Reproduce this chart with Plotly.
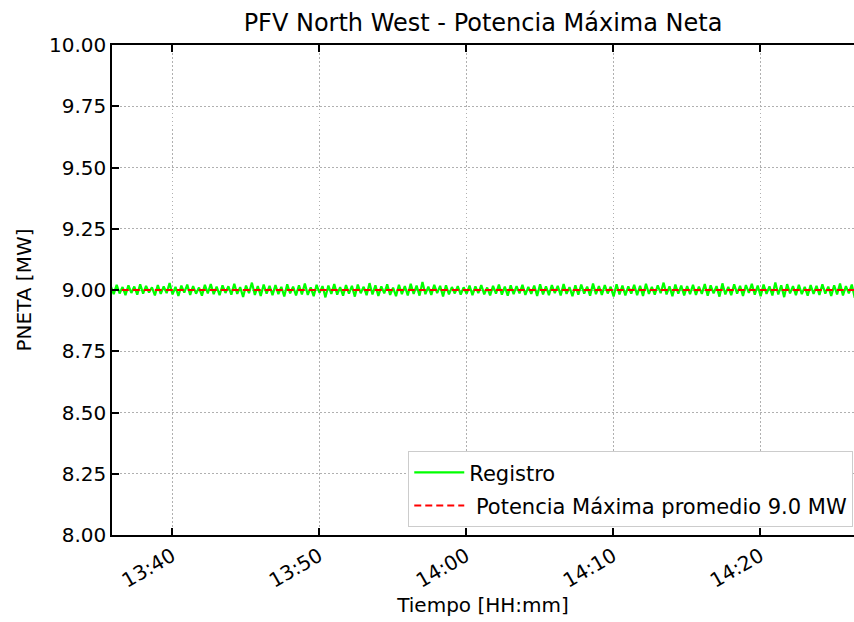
import pandas as pd
import plotly.graph_objects as go

# registro PNETA [MW], una muestra cada 12 s desde 13:35:50
registro = [
    9.016, 8.983, 9.021, 8.986, 9.012, 8.979, 9.019, 8.988, 9.014, 8.981, 9.023, 8.985, 9.017, 8.990, 9.011, 8.978, 9.020, 8.984, 9.015, 8.987,
    9.028, 8.982, 9.013, 8.976, 9.018, 8.989, 9.022, 8.980, 9.016, 8.985, 9.010, 8.977, 9.021, 8.986, 9.024, 8.983, 9.014, 8.979, 9.019, 8.988,
    9.015, 8.981, 9.025, 8.984, 9.012, 8.972, 9.018, 8.987, 9.030, 8.980, 9.016, 8.976, 9.022, 8.985, 9.017, 8.979, 9.020, 8.983, 9.013, 8.974,
    9.023, 8.986, 9.014, 8.978, 9.019, 8.982, 9.026, 8.980, 9.011, 8.975, 9.021, 8.988, 9.016, 8.970, 9.018, 8.984, 9.024, 8.981, 9.012, 8.977,
    9.020, 8.985, 9.017, 8.973, 9.022, 8.987, 9.013, 8.979, 9.028, 8.982, 9.019, 8.976, 9.015, 8.986, 9.023, 8.980, 9.010, 8.975, 9.021, 8.983,
    9.016, 8.978, 9.025, 8.984, 9.018, 8.977, 9.033, 8.983, 9.014, 8.980, 9.021, 8.987, 9.017, 8.974, 9.019, 8.982, 9.012, 8.986, 9.016, 8.981,
    9.011, 8.984, 9.018, 8.979, 9.015, 8.987, 9.020, 8.982, 9.010, 8.978, 9.017, 8.985, 9.022, 8.981, 9.014, 8.977, 9.019, 8.983, 9.016, 8.986,
    9.021, 8.980, 9.013, 8.984, 9.018, 8.976, 9.023, 8.982, 9.015, 8.979, 9.020, 8.987, 9.017, 8.978, 9.024, 8.984, 9.012, 8.975, 9.019, 8.981,
    9.022, 8.985, 9.014, 8.977, 9.026, 8.983, 9.016, 8.980, 9.020, 8.986, 9.013, 8.974, 9.023, 8.982, 9.018, 8.978, 9.015, 8.985, 9.021, 8.979,
    9.017, 8.976, 9.025, 8.984, 9.013, 8.981, 9.019, 8.987, 9.030, 8.982, 9.015, 8.975, 9.022, 8.985, 9.018, 8.978, 9.016, 8.983, 9.021, 8.980,
    9.014, 8.984, 9.024, 8.977, 9.019, 8.986, 9.016, 8.973, 9.027, 8.982, 9.013, 8.979, 9.023, 8.985, 9.017, 8.976, 9.020, 8.988, 9.025, 8.981,
    9.018, 8.975, 9.022, 8.984, 9.015, 8.978, 9.031, 8.982, 9.019, 8.971, 9.024, 8.986, 9.016, 8.979, 9.021, 8.983, 9.013, 8.977, 9.020, 8.984,
    9.017, 8.980, 9.023, 8.985, 9.014, 8.976, 9.019, 8.982, 9.026, 8.978, 9.016, 8.986, 9.022, 8.968, 9.032, 8.981, 9.018, 8.984, 9.015, 8.979,
]
tiempo = pd.date_range("2020-01-01 13:35:50", periods=len(registro), freq="12s")
p_max_promedio = 9.0

fig = go.Figure()

fig.add_trace(go.Scatter(
    x=tiempo, y=registro,
    mode="lines",
    name="Registro",
    legendgroup="a",
    line=dict(color="#00ff00", width=2.2),
))

fig.add_trace(go.Scatter(
    x=[tiempo[0], tiempo[-1]], y=[p_max_promedio, p_max_promedio],
    mode="lines",
    name=" Potencia Máxima promedio %.1f MW" % p_max_promedio,
    legendgroup="b",
    line=dict(color="#ff0000", width=2, dash="7px,4px"),
))

axis_style = dict(
    showline=True,
    linecolor="black",
    linewidth=1.5,
    ticks="inside",
    ticklen=7,
    tickwidth=1.5,
    tickcolor="black",
    showgrid=True,
    gridcolor="#b0b0b0",
    griddash="1.5px,2.5px",
    gridwidth=1,
    zeroline=False,
    tickfont=dict(size=20),
)

fig.update_layout(
    width=854,
    height=622,
    font=dict(family="DejaVu Sans", size=20, color="black"),
    title=dict(
        text="PFV North West - Potencia Máxima Neta",
        x=0.5, xref="paper", xanchor="center",
        y=0.964, yref="container", yanchor="middle",
        font=dict(size=24),
    ),
    plot_bgcolor="white",
    paper_bgcolor="white",
    margin=dict(l=112, r=0, t=45, b=87),
    showlegend=True,
    legend=dict(
        x=0.999, y=0.016, xanchor="right", yanchor="bottom",
        bgcolor="white",
        bordercolor="#cccccc",
        borderwidth=1,
        font=dict(size=21),
        tracegroupgap=3,
        itemwidth=50,
    ),
    xaxis=dict(
        axis_style,
        mirror="ticks",
        range=["2020-01-01 13:35:55", "2020-01-01 14:26:23"],
        tick0="2020-01-01 13:40:00",
        dtick=600000,
        tickformat="%H:%M",
        tickangle=-30,
        title=dict(text="Tiempo [HH:mm]", standoff=6, font=dict(size=20)),
    ),
    yaxis=dict(
        axis_style,
        range=[8.0, 10.0],
        dtick=0.25,
        tickformat=".2f",
        title=dict(text="PNETA [MW]", standoff=12, font=dict(size=20)),
    ),
)

# sin margen en body para que la figura ocupe toda la ventana
fig.write_html(
    "out.html",
    config={"displayModeBar": False},
    post_script="document.body.style.margin = '0';",
)
